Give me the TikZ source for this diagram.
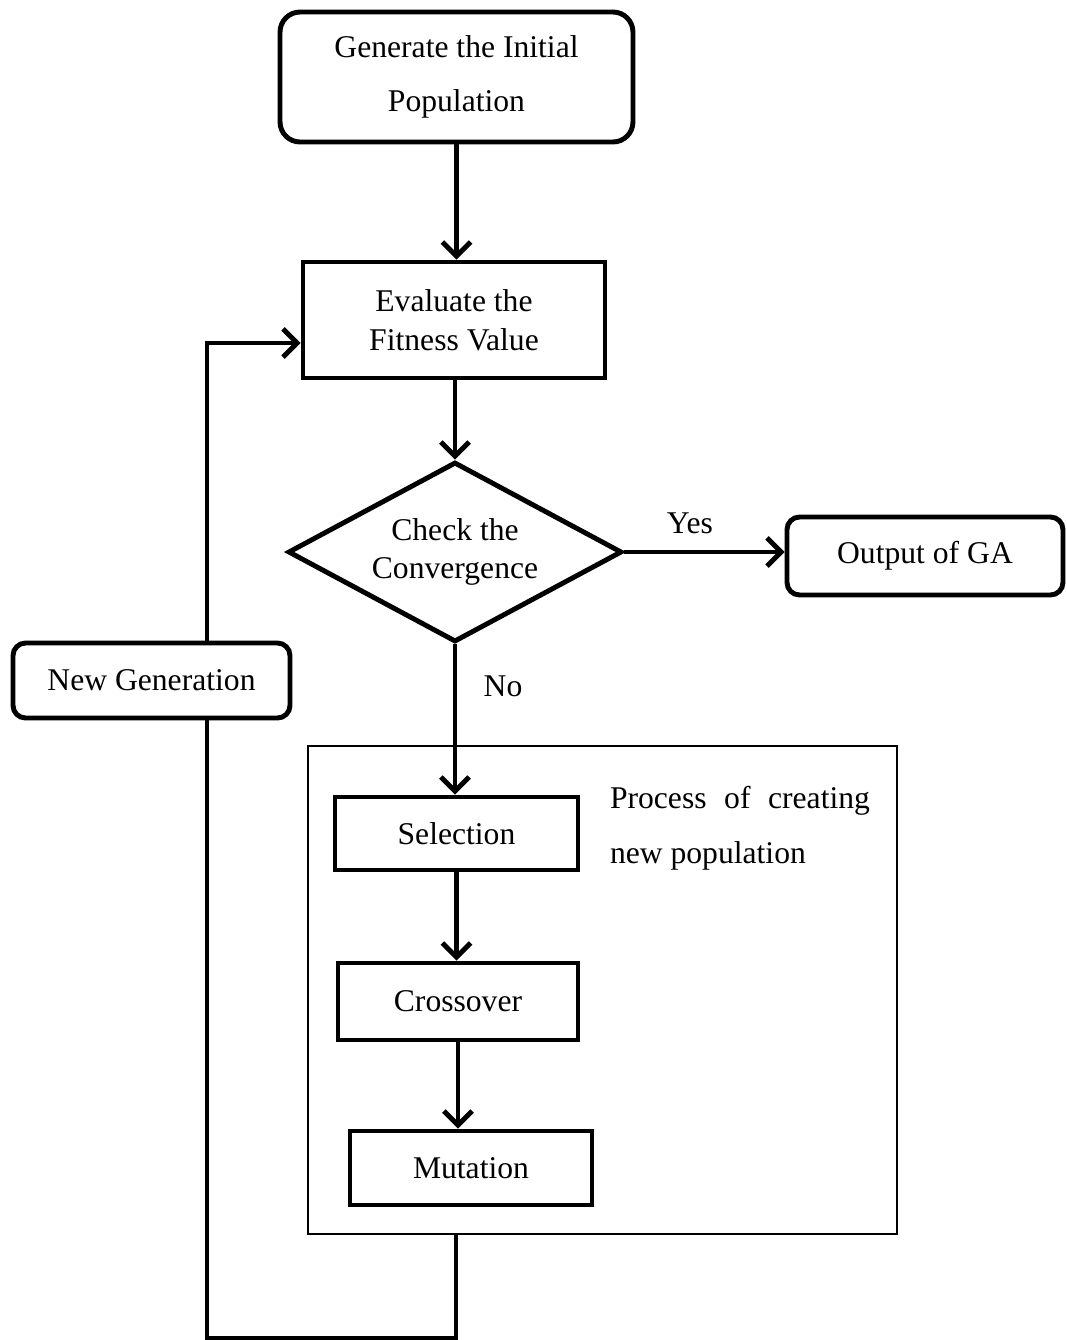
\documentclass[tikz,border=0pt]{standalone}
\usepackage{fontspec}
\setmainfont{Liberation Serif}
\usetikzlibrary{shapes.geometric,arrows.meta}

\begin{document}
\begin{tikzpicture}[
x=0.02cm,
y=-0.02cm,
every node/.style={
font=\fontsize{18}{22}\selectfont,
inner sep=0pt,
align=center
},
box/.style={
draw,
line width=2.8pt,
rectangle
},
roundbox/.style={
box,
rounded corners=0.25cm
},
decision/.style={
draw,
line width=2.8pt,
diamond,
aspect=1.86
},
arrow/.style={
-{Straight Barb[length=8pt,width=16pt,line width=2.8pt]},
line width=2.8pt
},
line/.style={
line width=2.8pt
}
]
\useasboundingbox (0,0) rectangle (1067,1340);

\node[roundbox, rounded corners=0.4cm, minimum width=7.06cm, minimum height=2.6cm]
(init) at (456.5,77) {Generate the Initial \\[9pt] Population};

\node[box, minimum width=6.04cm, minimum height=2.32cm]
(eval) at (454,320) {Evaluate the \\ Fitness Value};

\node[decision, minimum width=6.68cm, minimum height=3.6cm]
(check) at (455,552) {Check the \\ Convergence};

\node[roundbox, minimum width=5.52cm, minimum height=1.56cm]
(output) at (925,556) {Output of GA};

\node[roundbox, minimum width=5.54cm, minimum height=1.5cm]
(newgen) at (151.5,680.5) {New Generation};

% frame around the reproduction steps
\node[draw, line width=0.7pt, minimum width=11.78cm, minimum height=9.76cm]
(process) at (602.5,990) {};

\node[box, minimum width=4.86cm, minimum height=1.46cm]
(selection) at (456.5,833.5) {Selection};

\node[box, minimum width=4.8cm, minimum height=1.54cm]
(crossover) at (458,1001.5) {Crossover};

\node[box, minimum width=4.84cm, minimum height=1.48cm]
(mutation) at (471,1168) {Mutation};

\node[text width=5.2cm, align=justify, font=\fontsize{18}{31}\selectfont]
(note) at (740,828) {Process of creating new population};

\node (yes) at (690,523) {Yes};
\node (no) at (503,686) {No};

\coordinate (c1) at (456,1338);
\coordinate (c2) at (207,1338);
\coordinate (c3) at (207,343);

\draw[arrow] (init.south) -- (init.south |- eval.north);
\draw[arrow] (eval.south -| check.north) -- (check.north);
\draw[arrow] (check.east) -- (check.east -| output.west);
\draw[arrow] (check.south) -- (check.south |- selection.north);
\draw[arrow] (selection.south) -- (selection.south |- crossover.north);
\draw[arrow] (crossover.south) -- (crossover.south |- mutation.north);

\draw[line] (process.south -| c1) -- (c1) -- (c2) -- (newgen.south -| c2);
\draw[arrow] (newgen.north -| c2) -- (c3) -- (eval.west |- c3);

\end{tikzpicture}
\end{document}
